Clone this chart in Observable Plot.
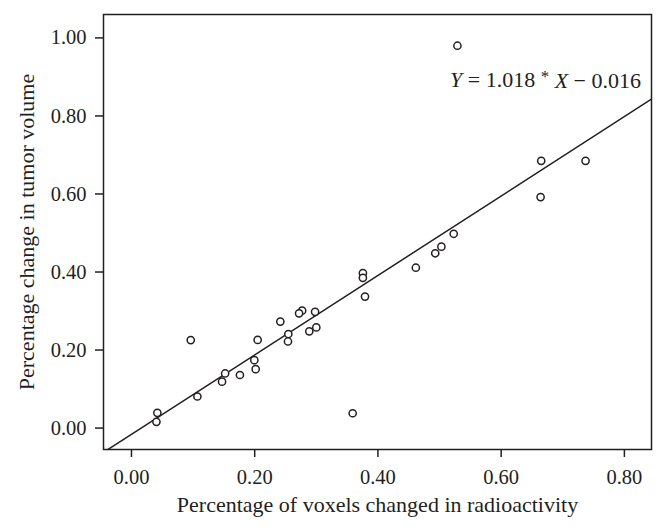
<!DOCTYPE html>
<html>
<head>
<meta charset="utf-8">
<script src="https://cdn.jsdelivr.net/npm/d3@7"></script>
<script src="https://cdn.jsdelivr.net/npm/@observablehq/plot@0.6"></script>
<style>
  html, body { margin: 0; padding: 0; background: #fff; }
  #chart { width: 666px; height: 530px; }
</style>
</head>
<body>
<div id="chart"></div>
<script>
// Data
const xValues = [0.529, 0.665, 0.737, 0.664, 0.523, 0.503, 0.493, 0.4615, 0.3756, 0.3756,
                 0.379, 0.298, 0.277, 0.272, 0.2416, 0.300, 0.2886, 0.2546, 0.254, 0.2048,
                 0.1994, 0.2016, 0.176, 0.152, 0.147, 0.107, 0.0962, 0.042, 0.0405, 0.359];
const yValues = [0.980, 0.685, 0.685, 0.592, 0.498, 0.465, 0.448, 0.411, 0.397, 0.385,
                 0.337, 0.298, 0.301, 0.294, 0.273, 0.258, 0.248, 0.241, 0.222, 0.226,
                 0.174, 0.151, 0.136, 0.140, 0.119, 0.081, 0.2256, 0.039, 0.016, 0.038];
const xTicks = [0, 0.2, 0.4, 0.6, 0.8];
const yTicks = [0, 0.2, 0.4, 0.6, 0.8, 1.0];
const xDomain = [-0.0454, 0.844];
const yDomain = [-0.0549, 1.06];
const slope = 1.018;
const intercept = -0.016;
const xLabel = "Percentage of voxels changed in radioactivity";
const yLabel = "Percentage change in tumor volume";
const equation = "Y = 1.018 * X \u2212 0.016";
const equationPos = { x: 0.827, y: 0.893 };

const points = xValues.map((x, i) => ({ x, y: yValues[i] }));
const fitLine = xDomain.map(x => ({ x, y: slope * x + intercept }));

const fmt = d3.format(".2f");
const ink = "#231f20";

const chart = Plot.plot({
  width: 666,
  height: 530,
  marginLeft: 103,
  marginRight: 15,
  marginTop: 14,
  marginBottom: 81,
  style: { fontFamily: "'Liberation Serif', 'DejaVu Serif', serif", fontSize: "22px", color: ink, background: "#fff" },
  x: { domain: xDomain },
  y: { domain: yDomain },
  marks: [
    Plot.axisX({ ticks: xTicks, tickFormat: fmt, tickSize: 8, tickPadding: 12, fontSize: 20.5,
                 label: xLabel, labelAnchor: "center", labelArrow: "none", labelOffset: 62, strokeWidth: 1.5 }),
    Plot.axisY({ ticks: yTicks, tickFormat: fmt, tickSize: 8, tickPadding: 9, fontSize: 20.5,
                 label: yLabel, labelAnchor: "center", labelArrow: "none", labelOffset: 85, strokeWidth: 1.5 }),
    Plot.line(fitLine, { x: "x", y: "y", stroke: ink, strokeWidth: 1.5, clip: true }),
    Plot.dot(points, { x: "x", y: "y", r: 3.6, stroke: ink, strokeWidth: 1.5, fill: "#fff" }),
    Plot.text([equationPos], { x: "x", y: "y", text: () => equation, textAnchor: "end", fontSize: 22, fill: ink }),
    Plot.frame({ stroke: ink, strokeWidth: 1.5 })
  ]
});

document.getElementById("chart").appendChild(chart);

// Axis labels a bit larger than tick labels
d3.select(chart).selectAll("text").each(function () {
  if (this.textContent === xLabel || this.textContent === yLabel) {
    d3.select(this).attr("font-size", 22);
  }
});

// Italic Y and X, raised asterisk in the equation
d3.select(chart).selectAll("text").each(function () {
  if (this.textContent === equation) {
    const t = d3.select(this);
    t.text(null);
    t.append("tspan").attr("font-style", "italic").text("Y");
    t.append("tspan").text(" = 1.018 ");
    t.append("tspan").attr("dy", "-0.3em").attr("font-size", "17px").text("*");
    t.append("tspan").attr("dy", "0.3em").text(" ");
    t.append("tspan").attr("font-style", "italic").text("X");
    t.append("tspan").text(" \u2212 0.016");
  }
});
</script>
</body>
</html>
